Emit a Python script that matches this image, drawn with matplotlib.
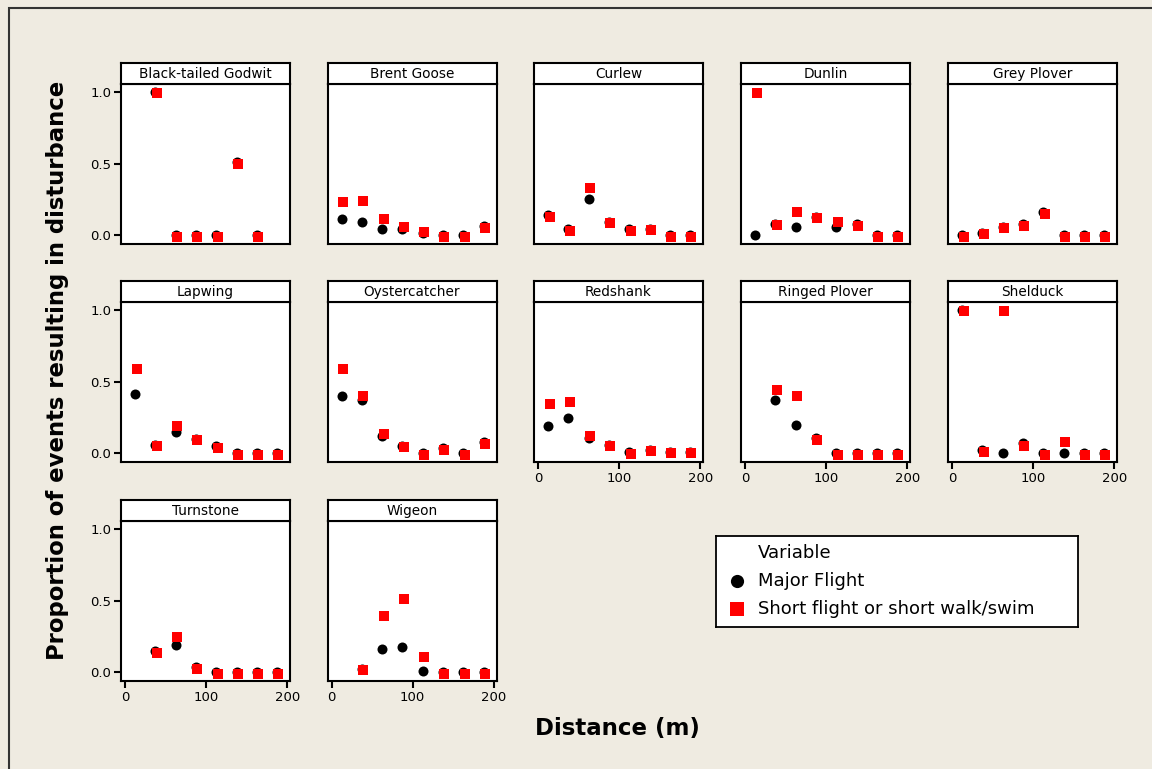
import numpy as np
import matplotlib
matplotlib.use("Agg")
import matplotlib.pyplot as plt
from matplotlib.patches import Rectangle
from matplotlib.transforms import ScaledTranslation

# Distance bins (midpoints, m)
distance_m = [12.5, 37.5, 62.5, 87.5, 112.5, 137.5, 162.5, 187.5]

species = ["Black-tailed Godwit", "Brent Goose", "Curlew", "Dunlin", "Grey Plover",
           "Lapwing", "Oystercatcher", "Redshank", "Ringed Plover", "Shelduck",
           "Turnstone", "Wigeon"]

# Proportion of events resulting in disturbance, per distance bin (None = no events)
godwit_major        = [None, 1.00, 0.00, 0.00, 0.00, 0.51, 0.00, None]
godwit_short        = [None, 1.00, 0.00, 0.00, 0.00, 0.51, 0.00, None]
brent_major         = [0.11, 0.09, 0.045, 0.045, 0.015, 0.00, 0.00, 0.065]
brent_short         = [0.24, 0.25, 0.125, 0.07, 0.03, 0.00, 0.00, 0.06]
curlew_major        = [0.14, 0.04, 0.255, 0.095, 0.04, 0.045, 0.00, 0.00]
curlew_short        = [0.14, 0.04, 0.34, 0.095, 0.04, 0.045, 0.00, 0.00]
dunlin_major        = [0.00, 0.08, 0.06, 0.13, 0.055, 0.075, 0.00, 0.00]
dunlin_short        = [1.00, 0.08, 0.17, 0.13, 0.10, 0.075, 0.00, 0.00]
grey_plover_major   = [0.00, 0.018, 0.058, 0.075, 0.16, 0.00, 0.00, 0.00]
grey_plover_short   = [0.00, 0.018, 0.058, 0.075, 0.16, 0.00, 0.00, 0.00]
lapwing_major       = [0.41, 0.06, 0.147, 0.10, 0.048, 0.00, 0.00, 0.00]
lapwing_short       = [0.60, 0.06, 0.20, 0.10, 0.048, 0.00, 0.00, 0.00]
oystercatcher_major = [0.40, 0.37, 0.117, 0.05, 0.00, 0.033, 0.00, 0.08]
oystercatcher_short = [0.60, 0.41, 0.145, 0.05, 0.00, 0.03, 0.00, 0.072]
redshank_major      = [0.19, 0.245, 0.105, 0.056, 0.005, 0.022, 0.008, 0.008]
redshank_short      = [0.35, 0.37, 0.13, 0.06, 0.005, 0.022, 0.008, 0.008]
ringed_plover_major = [None, 0.37, 0.20, 0.107, 0.00, 0.00, 0.00, 0.00]
ringed_plover_short = [None, 0.45, 0.41, 0.105, 0.00, 0.00, 0.00, 0.00]
shelduck_major      = [1.00, 0.02, 0.00, 0.068, 0.00, 0.00, 0.00, 0.00]
shelduck_short      = [1.00, 0.02, 1.00, 0.06, 0.00, 0.09, 0.00, 0.00]
turnstone_major     = [None, 0.15, 0.19, 0.037, 0.00, 0.00, 0.00, 0.00]
turnstone_short     = [None, 0.145, 0.255, 0.035, 0.00, 0.00, 0.00, 0.00]
wigeon_major        = [None, 0.024, 0.16, 0.175, 0.01, 0.00, 0.00, 0.00]
wigeon_short        = [None, 0.022, 0.40, 0.52, 0.115, 0.00, 0.00, 0.00]

major_flight = [godwit_major, brent_major, curlew_major, dunlin_major, grey_plover_major,
                lapwing_major, oystercatcher_major, redshank_major, ringed_plover_major,
                shelduck_major, turnstone_major, wigeon_major]
short_flight = [godwit_short, brent_short, curlew_short, dunlin_short, grey_plover_short,
                lapwing_short, oystercatcher_short, redshank_short, ringed_plover_short,
                shelduck_short, turnstone_short, wigeon_short]

series_labels = ["Major Flight", "Short flight or short walk/swim"]
legend_title = "Variable"
x_label = "Distance (m)"
y_label = "Proportion of events resulting in disturbance"

# ---- layout (pixel geometry converted to figure fractions) ----
W, H = 1152, 769
BG = "#EFEBE1"
fig = plt.figure(figsize=(W / 100, H / 100), dpi=100, facecolor=BG)

col_left = [121, 327.5, 534, 741, 948]
row_top = [84, 302, 521]
plot_w, plot_h, strip_h = 169, 159.5, 21.5
ncols = 5
n_panels = len(species)

def frac_box(x0, y0, w, h):
    return [x0 / W, 1 - (y0 + h) / H, w / W, h / H]

sq_shift = ScaledTranslation(1.0 / 72, -1.0 / 72, fig.dpi_scale_trans)

for i, name in enumerate(species):
    r, c = divmod(i, ncols)
    x0, y0 = col_left[c], row_top[r]

    ax = fig.add_axes(frac_box(x0, y0, plot_w, plot_h))
    ax.set_facecolor("white")
    for s in ax.spines.values():
        s.set_linewidth(1.5)
        s.set_color("black")

    x = np.array(distance_m, dtype=float)
    ym = np.array([np.nan if v is None else v for v in major_flight[i]], dtype=float)
    ys = np.array([np.nan if v is None else v for v in short_flight[i]], dtype=float)
    ax.plot(x, ym, linestyle="none", marker="o", ms=7.2, color="black",
            markeredgewidth=0, zorder=3)
    ax.plot(x, ys, linestyle="none", marker="s", ms=7.8, color="#FF0000",
            markeredgewidth=0, zorder=4, transform=ax.transData + sq_shift)

    ax.set_xlim(-5, 203.5)
    ax.set_ylim(-0.058, 1.056)
    ax.set_xticks([0, 100, 200])
    ax.set_yticks([0.0, 0.5, 1.0])
    ax.set_yticklabels(["0.0", "0.5", "1.0"])

    show_y = (c == 0)
    show_x = (i + ncols) >= n_panels
    ax.tick_params(axis="y", left=show_y, labelleft=show_y, length=5, width=1.5,
                   pad=2, labelsize=9.5, direction="out")
    ax.tick_params(axis="x", bottom=show_x, labelbottom=show_x, length=5, width=1.5,
                   pad=2.5, labelsize=9.5, direction="out")

    # facet strip
    sax = fig.add_axes(frac_box(x0, y0 - strip_h, plot_w, strip_h))
    sax.set_facecolor("white")
    sax.set_xticks([])
    sax.set_yticks([])
    for s in sax.spines.values():
        s.set_linewidth(1.5)
        s.set_color("black")
    sax.text(0.5, 0.47, name, ha="center", va="center", fontsize=9.8,
             transform=sax.transAxes)

# legend box
lax = fig.add_axes(frac_box(716, 536, 362, 91))
lax.set_facecolor("white")
lax.set_xlim(0, 1)
lax.set_ylim(0, 1)
lax.set_xticks([])
lax.set_yticks([])
for s in lax.spines.values():
    s.set_linewidth(1.3)
    s.set_color("black")
lax.text(0.116, 0.813, legend_title, ha="left", va="center", fontsize=13)
lax.plot([0.058], [0.505], marker="o", ms=9.5, color="black", markeredgewidth=0)
lax.text(0.116, 0.505, series_labels[0], ha="left", va="center", fontsize=13)
lax.plot([0.058], [0.198], marker="s", ms=9.5, color="#FF0000", markeredgewidth=0)
lax.text(0.116, 0.198, series_labels[1], ha="left", va="center", fontsize=13)

# axis titles
fig.text(58 / W, 1 - 370 / H, y_label, rotation=90, ha="center", va="center",
         fontsize=16.4, fontweight="bold")
fig.text(617 / W, 1 - 728 / H, x_label, ha="center", va="center",
         fontsize=16.5, fontweight="bold")

# outer frame
fig.patches.append(Rectangle((9 / W, -0.1), 1.2, (1 - 8 / H) + 0.1,
                             transform=fig.transFigure, fill=False,
                             edgecolor="#333333", linewidth=1.5))

fig.savefig("out.png", dpi=100, facecolor=BG)
